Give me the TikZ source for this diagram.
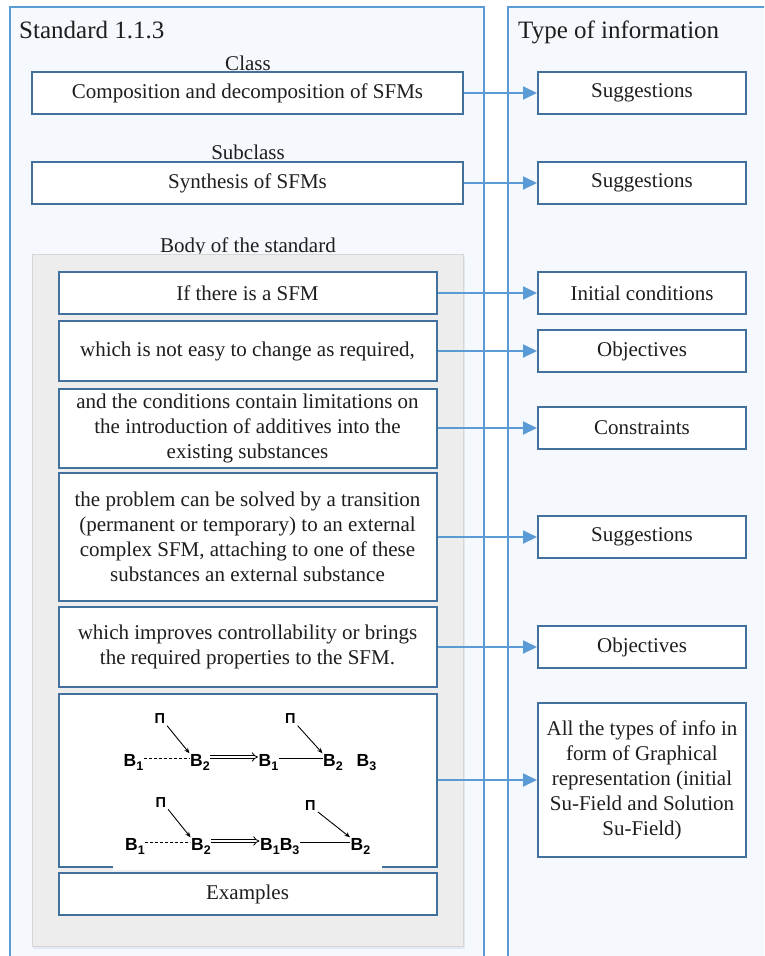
\documentclass[tikz,border=0pt]{standalone}
\usepackage{fontspec}
\setmainfont{Liberation Serif}
\newfontfamily\diagfont{Liberation Sans}
\usetikzlibrary{arrows.meta}
\definecolor{panelline}{HTML}{5B9BD5}
\definecolor{arrowc}{HTML}{5B9BD5}
\definecolor{boxline}{HTML}{41719C}
\definecolor{panelfill}{HTML}{F5F8FC}
\definecolor{greyfill}{HTML}{EDEDED}
\definecolor{greyline}{HTML}{D6D6D6}
\definecolor{shadowc}{HTML}{E2E9F2}
\definecolor{inkc}{HTML}{1E1E1E}
\newcommand\Bsub[1]{B\raisebox{-4pt}{\fontsize{12.5}{13}\selectfont #1}}
\begin{document}
\begin{tikzpicture}[x=1pt,y=-1pt,
  box/.style={draw=boxline, line width=2pt, fill=white, inner sep=0pt, align=center,
              text=inkc, font=\fontsize{21}{25}\selectfont},
  lbl/.style={inner sep=0pt, anchor=base, text=inkc, font=\fontsize{21}{25}\selectfont},
  ttl/.style={inner sep=0pt, anchor=base west, text=inkc, font=\fontsize{25}{30}\selectfont},
  link/.style={draw=arrowc, line width=1.8pt, -{Triangle[length=14pt,width=13pt]}},
  sym/.style={inner sep=0.5pt, anchor=base west, font=\diagfont\bfseries\fontsize{17.5}{19}\selectfont},
  pe/.style={inner sep=0.5pt, anchor=base west, font=\diagfont\bfseries\fontsize{14.5}{15}\selectfont},
  ptr/.style={line width=0.9pt, shorten <=2pt, -{Stealth[length=5.5pt,width=4.5pt]}},
  bond/.style={line width=0.9pt}
]
\useasboundingbox (0,0) rectangle (764,956);
\clip (0,0) rectangle (764,956);
\fill[white] (0,0) rectangle (764,956);

% panels
\fill[panelfill] (10,7) rectangle (484,960);
\draw[panelline, line width=1.3pt] (10,960) -- (10,7) -- (484,7) -- (484,960);
\fill[panelfill] (508,7) rectangle (780,960);
\draw[panelline, line width=1.3pt] (508,960) -- (508,7) -- (780,7);

\node[ttl] (t1) at (19,38.5) {Standard 1.1.3};
\node[ttl] (t2) at (518,38.5) {Type of information};

% class / subclass
\node[lbl] (lcls) at (248,70.5) {Class};
\node[box, minimum width=431pt, minimum height=42pt] (cls) at (247.5,93) {Composition and decomposition of SFMs};
\node[lbl] (lsub) at (248,159.5) {Subclass};
\node[box, minimum width=431pt, minimum height=42pt] (sub) at (247.5,183) {Synthesis of SFMs};

% body
\node[lbl] (lbody) at (248,252) {Body of the standard};
\fill[shadowc] (33,257) rectangle (465,949);
\filldraw[fill=greyfill, draw=greyline, line width=0.8pt] (32,254) rectangle (463,946);

\node[box, minimum width=378pt, minimum height=42pt] (b1) at (247.5,293) {If there is a SFM};
\node[box, minimum width=378pt, minimum height=60pt] (b2) at (247.5,351) {which is not easy to change as required,};
\node[box, minimum width=378pt, minimum height=79pt] (b3) at (247.5,428)
  {and the conditions contain limitations on\\the introduction of additives into the\\existing substances};
\node[box, minimum width=378pt, minimum height=128pt] (b4) at (247.5,537)
  {the problem can be solved by a transition\\(permanent or temporary) to an external\\complex SFM, attaching to one of these\\substances an external substance};
\node[box, minimum width=378pt, minimum height=80pt] (b5) at (247.5,647)
  {which improves controllability or brings\\the required properties to the SFM.};
\node[box, minimum width=378pt, minimum height=173pt] (b6) at (247.5,780) {};
\fill[white] (113,864) rectangle (382,869.5);
\node[box, minimum width=378pt, minimum height=42pt] (ex) at (247.5,894) {Examples};

% right column
\node[box, minimum width=208pt, minimum height=42pt] (r1) at (642,93) {Suggestions};
\node[box, minimum width=208pt, minimum height=42pt] (r2) at (642,183) {Suggestions};
\node[box, minimum width=208pt, minimum height=42pt] (r3) at (642,293) {Initial conditions};
\node[box, minimum width=208pt, minimum height=42pt] (r4) at (642,351) {Objectives};
\node[box, minimum width=208pt, minimum height=42pt] (r5) at (642,428) {Constraints};
\node[box, minimum width=208pt, minimum height=42pt] (r6) at (642,537) {Suggestions};
\node[box, minimum width=208pt, minimum height=42pt] (r7) at (642,647) {Objectives};
\node[box, minimum width=208pt, minimum height=154pt] (r8) at (642,780)
  {All the types of info in\\form of Graphical\\representation (initial\\Su-Field and Solution\\Su-Field)};

% connectors
\draw[link] (cls.east) -- (r1.west);
\draw[link] (sub.east) -- (r2.west);
\draw[link] (b1.east) -- (r3.west);
\draw[link] (b2.east) -- (r4.west);
\draw[link] (b3.east) -- (r5.west);
\draw[link] (b4.east) -- (r6.west);
\draw[link] (b5.east) -- (r7.west);
\draw[link] (b6.east) -- (r8.west);

% su-field example, row 1
\node[pe] (pa) at (154,723.5) {П};
\node[pe] (pb) at (284.5,723.5) {П};
\node[sym] (ba) at (123,766) {\Bsub1};
\node[sym] (bb) at (189.5,766) {\Bsub2};
\node[sym] (bc) at (258,766) {\Bsub1};
\node[sym] (bd) at (322.5,766) {\Bsub2};
\node[sym] (be) at (356,766) {\Bsub3};
\draw[bond, dash pattern=on 3pt off 2pt] ([yshift=8pt]ba.base east) -- ([yshift=8pt]bb.base west);
\draw[line width=0.8pt, double, double distance=2.4pt, -{Implies}] ([yshift=9pt]bb.base east) -- ([yshift=9pt]bc.base west);
\draw[bond] ([yshift=8pt]bc.base east) -- ([yshift=8pt]bd.base west);
\draw[ptr] (pa.south east) -- (bb.north west);
\draw[ptr] (pb.south east) -- (bd.north west);

% row 2
\node[pe] (pc) at (155,807) {П};
\node[pe] (pd) at (304.5,810) {П};
\node[sym] (bf) at (124.5,850) {\Bsub1};
\node[sym] (bg) at (190.5,850) {\Bsub2};
\node[sym] (bh) at (259.5,850) {\Bsub1\Bsub3};
\node[sym] (bi) at (350,850) {\Bsub2};
\draw[bond, dash pattern=on 3pt off 2pt] ([yshift=8pt]bf.base east) -- ([yshift=8pt]bg.base west);
\draw[line width=0.8pt, double, double distance=2.4pt, -{Implies}] ([yshift=9pt]bg.base east) -- ([yshift=9pt]bh.base west);
\draw[bond] ([yshift=8pt]bh.base east) -- ([yshift=8pt]bi.base west);
\draw[ptr] (pc.south east) -- (bg.north west);
\draw[ptr] (pd.south east) -- (bi.north west);
\end{tikzpicture}
\end{document}
